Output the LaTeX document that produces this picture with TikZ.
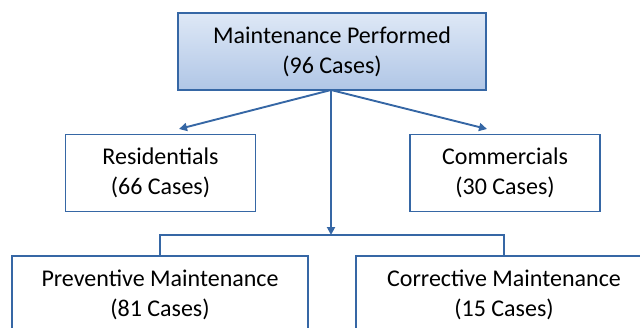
\documentclass[tikz,border=0pt]{standalone}
\usepackage{fontspec}
\setmainfont{Carlito}
\usetikzlibrary{arrows.meta}
\definecolor{lineblue}{RGB}{54,103,165}
\definecolor{topfill}{RGB}{222,232,246}
\definecolor{botfill}{RGB}{176,198,230}
\tikzset{
  box/.style={draw=lineblue, line width=1.9pt, fill=white, minimum height=77pt,
    align=center, inner sep=0pt, font=\fontsize{24}{30}\selectfont},
  conn/.style={draw=lineblue, line width=1.9pt},
  arr/.style={conn, -{Triangle[length=8pt,width=8pt]}}
}
\begin{document}
\begin{tikzpicture}[x=1pt,y=-1pt]
\useasboundingbox (0,0) rectangle (640,327);
\clip (0,0) rectangle (640,327);
\node[box, minimum width=308pt, draw=lineblue, top color=topfill, bottom color=botfill] (top) at (332,51.5) {Maintenance Performed\\(96 Cases)};
\node[box, minimum width=190pt] (res) at (160.5,173) {Residentials\\(66 Cases)};
\node[box, minimum width=190pt] (com) at (505,173) {Commercials\\(30 Cases)};
\node[box, minimum width=296pt] (pre) at (160,294.5) {Preventive Maintenance\\(81 Cases)};
\node[box, minimum width=296pt] (cor) at (504,294.5) {Corrective Maintenance\\(15 Cases)};
\coordinate (src) at (331,90);
\coordinate (resend) at (179,129);
\coordinate (comend) at (487,129);
\coordinate (split) at (331,235);
\draw[arr] (src) -- (resend);
\draw[arr] (src) -- (comend);
\draw[arr] (src) -- (split);
\draw[conn] (pre.north) -- (pre.north |- split) -- (cor.north |- split) -- (cor.north);
\end{tikzpicture}
\end{document}
